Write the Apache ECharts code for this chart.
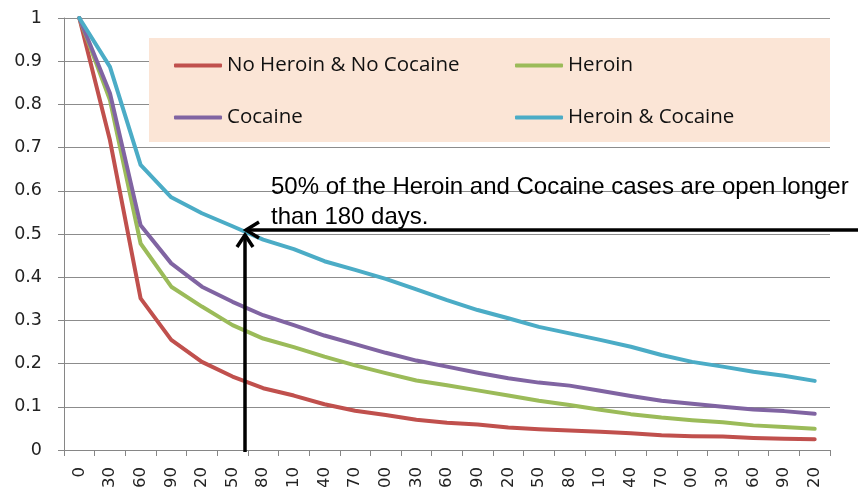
<!DOCTYPE html>
<html><head><meta charset="utf-8">
<script src="https://cdn.jsdelivr.net/npm/echarts@6/dist/echarts.min.js"></script>
<style>html,body{margin:0;padding:0;background:#fff}#c{width:858px;height:487px}</style>
</head><body><div id="c"></div>
<script>
const days = ["0","30","60","90","120","150","180","210","240","270","300","330","360","390","420","450","480","510","540","570","600","630","660","690","720"];
const seriesNames = ["No Heroin & No Cocaine", "Heroin", "Cocaine", "Heroin & Cocaine"];
const noHeroinNoCocaine = [1.0,0.717,0.351,0.255,0.204,0.170,0.143,0.126,0.106,0.091,0.081,0.070,0.063,0.059,0.052,0.048,0.045,0.042,0.039,0.034,0.032,0.031,0.028,0.026,0.025];
const heroin = [1.0,0.81,0.478,0.378,0.332,0.289,0.258,0.238,0.216,0.196,0.178,0.161,0.150,0.138,0.126,0.114,0.104,0.093,0.083,0.075,0.069,0.064,0.057,0.053,0.049];
const cocaine = [1.0,0.826,0.52,0.432,0.378,0.343,0.312,0.289,0.265,0.245,0.225,0.207,0.193,0.179,0.166,0.156,0.149,0.137,0.125,0.114,0.107,0.100,0.094,0.090,0.084];
const heroinCocaine = [1.0,0.887,0.66,0.585,0.548,0.518,0.487,0.465,0.437,0.417,0.396,0.372,0.347,0.324,0.305,0.285,0.270,0.255,0.239,0.220,0.204,0.193,0.181,0.172,0.160];
const colors = ["#C0504D", "#9BBB59", "#8064A2", "#4BACC6"];
const annotation = ["50% of the Heroin and Cocaine cases are open longer", "than 180 days."];

const chart = echarts.init(document.getElementById('c'), null, {renderer: 'canvas'});
const allData = [noHeroinNoCocaine, heroin, cocaine, heroinCocaine];
const legendPos = [[174, 55], [515, 55], [174, 107], [515, 107]];
const legendFont = {fontFamily: 'Open Sans, Liberation Sans, sans-serif', fontSize: 20.5, color: '#111'};
const axisFont = 'DejaVu Sans, Liberation Sans, sans-serif';

const option = {
  animation: false,
  grid: {left: 64, right: 28, top: 18, bottom: 37, outerBoundsMode: 'none', containLabel: false},
  xAxis: {
    type: 'category', data: days, boundaryGap: true,
    axisLine: {lineStyle: {color: '#868686', width: 1}},
    axisTick: {show: true, length: 6, lineStyle: {color: '#868686'}},
    axisLabel: {rotate: 90, interval: 0, fontSize: 16.5, color: '#222', margin: 17, fontFamily: axisFont},
    splitLine: {show: false}
  },
  yAxis: {
    type: 'value', min: 0, max: 1, interval: 0.1,
    axisLine: {show: true, lineStyle: {color: '#868686', width: 1}},
    axisTick: {show: true, length: 6, lineStyle: {color: '#868686'}},
    axisLabel: {fontSize: 17.5, color: '#222', margin: 22, fontFamily: axisFont,
      formatter: v => String(Math.round(v * 10) / 10)},
    splitLine: {show: true, lineStyle: {color: '#8c8c8c', width: 1}}
  },
  legend: seriesNames.map((n, i) => ({
    data: [n], left: legendPos[i][0], top: legendPos[i][1], padding: 0,
    icon: 'roundRect', itemWidth: 48, itemHeight: 4, itemGap: 0,
    textStyle: legendFont, z: 20, selectedMode: false
  })),
  series: seriesNames.map((n, i) => ({
    name: n, type: 'line', data: allData[i], symbol: 'none', showSymbol: false,
    lineStyle: {color: colors[i], width: 4, cap: 'round', join: 'round'},
    itemStyle: {color: colors[i]}, z: 3
  })),
  graphic: [
    {type: 'rect', shape: {x: 149, y: 38, width: 681, height: 104}, style: {fill: '#FBE5D6'}, z: 5, silent: true},
    {type: 'text', left: 271, top: 175, style: {text: annotation[0], font: '24px Liberation Sans, Arial, sans-serif', fill: '#000'}, z: 1},
    {type: 'text', left: 271, top: 205, style: {text: annotation[1], font: '24px Liberation Sans, Arial, sans-serif', fill: '#000'}, z: 1},
    {type: 'line', shape: {x1: 247, y1: 230, x2: 858, y2: 230}, style: {stroke: '#000', lineWidth: 3.5}, z: 30},
    {type: 'polyline', shape: {points: [[259, 222], [246, 230], [259, 238]]}, style: {stroke: '#000', lineWidth: 3.5, fill: null}, z: 30},
    {type: 'line', shape: {x1: 245, y1: 452, x2: 245, y2: 236}, style: {stroke: '#000', lineWidth: 3.5}, z: 30},
    {type: 'polyline', shape: {points: [[237, 247], [245, 235], [253, 247]]}, style: {stroke: '#000', lineWidth: 3.5, fill: null}, z: 30}
  ]
};
chart.setOption(option);
</script></body></html>
